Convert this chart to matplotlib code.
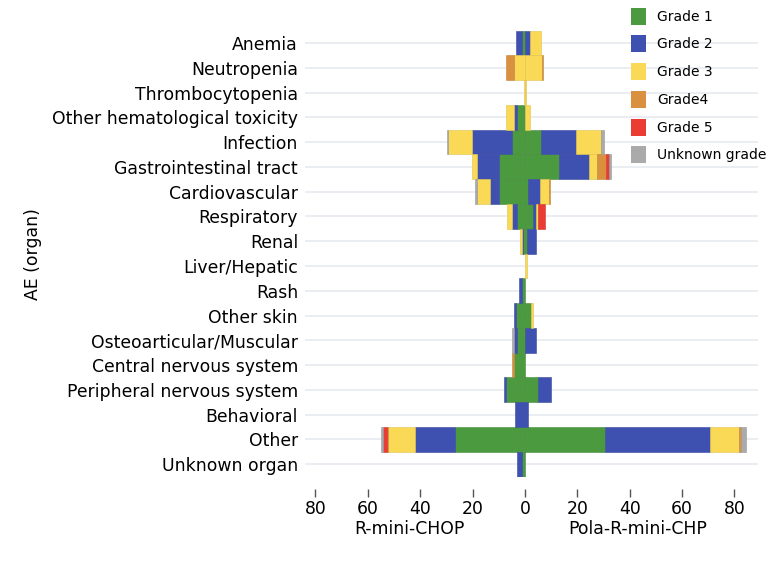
import numpy as np
import matplotlib
matplotlib.use('Agg')
import matplotlib.pyplot as plt
from matplotlib.patches import Patch
from matplotlib.colors import to_rgb

organs = ['Anemia', 'Neutropenia', 'Thrombocytopenia', 'Other hematological toxicity',
          'Infection', 'Gastrointestinal tract', 'Cardiovascular', 'Respiratory',
          'Renal', 'Liver/Hepatic', 'Rash', 'Other skin', 'Osteoarticular/Muscular',
          'Central nervous system', 'Peripheral nervous system', 'Behavioral',
          'Other', 'Unknown organ']

grades = ['Grade 1', 'Grade 2', 'Grade 3', 'Grade4', 'Grade 5', 'Unknown grade']
colors = ['#4c9a3f', '#3f51b0', '#f9d955', '#d9913f', '#ea3c33', '#aaaaaa']

# R-mini-CHOP (drawn to the left)
chop_g1 = [1.0, 0, 0, 3.0, 5.0, 10.0, 10.0, 2.9, 0.7, 0, 1.0, 3.3, 2.9, 4.2, 7.1, 0, 26.7, 1.0]
chop_g2 = [2.3, 0, 0, 1.3, 15.3, 8.3, 3.2, 2.2, 0.6, 0, 1.1, 0.9, 1.3, 0, 0.9, 3.9, 15.3, 2.2]
chop_g3 = [0, 4.3, 0.4, 2.9, 8.9, 1.9, 5.3, 1.9, 0.6, 0, 0, 0, 0, 0, 0, 0, 10.2, 0]
chop_g4 = [0, 2.8, 0, 0, 0, 0, 0, 0, 0, 0, 0, 0, 0, 0.8, 0, 0, 0.6, 0]
chop_g5 = [0, 0, 0, 0, 0, 0, 0, 0, 0, 0, 0, 0, 0, 0, 0, 0, 1.3, 0]
chop_unk = [0, 0, 0, 0, 0.6, 0, 0.6, 0, 0, 0, 0, 0, 0.6, 0, 0, 0, 0.8, 0]

# Pola-R-mini-CHP (drawn to the right)
pola_g1 = [0, 0, 0, 0, 6.0, 13.0, 1.1, 3.2, 0.9, 0, 0, 2.2, 0, 0, 5.0, 0, 30.5, 0]
pola_g2 = [2.0, 0, 0, 0, 13.4, 11.5, 4.8, 1.1, 3.2, 0, 0, 0, 4.1, 0, 4.8, 1.1, 40.3, 0]
pola_g3 = [4.0, 6.4, 0.5, 1.9, 9.5, 3.2, 3.2, 0.6, 0, 0.9, 0, 1.0, 0, 0, 0, 0, 10.8, 0]
pola_g4 = [0, 0.6, 0, 0, 0, 3.2, 0.6, 0, 0, 0, 0, 0, 0, 0, 0, 0, 1.0, 0]
pola_g5 = [0, 0, 0, 0, 0, 1.3, 0, 2.9, 0, 0, 0, 0, 0, 0, 0, 0, 0, 0]
pola_unk = [0, 0, 0, 0, 1.1, 0.5, 0, 0, 0, 0, 0, 0, 0, 0, 0, 0, 1.9, 0]

chop = [chop_g1, chop_g2, chop_g3, chop_g4, chop_g5, chop_unk]
pola = [pola_g1, pola_g2, pola_g3, pola_g4, pola_g5, pola_unk]

xticks = [-80, -60, -40, -20, 0, 20, 40, 60, 80]


def darker(c, f=0.9):
    r, g, b = to_rgb(c)
    return (r * f, g * f, b * f)


fig = plt.figure(figsize=(7.78, 5.66), dpi=100)
ax = fig.add_axes([305 / 778, 1 - 476.6 / 566, (758 - 305) / 778, (476.6 - 30.6) / 566])

y = np.arange(len(organs))
left_base = np.zeros(len(organs))
right_base = np.zeros(len(organs))
for i in range(len(grades)):
    lv = np.array(chop[i])
    rv = np.array(pola[i])
    m = lv > 0
    ax.barh(y[m], -lv[m], left=-left_base[m], height=1.0, color=colors[i],
            edgecolor=darker(colors[i]), linewidth=0.4, zorder=2)
    m = rv > 0
    ax.barh(y[m], rv[m], left=right_base[m], height=1.0, color=colors[i],
            edgecolor=darker(colors[i]), linewidth=0.4, zorder=2)
    left_base += lv
    right_base += rv

ax.set_ylim(len(organs) - 0.5, -0.5)
ax.set_xlim(-84, 89)
ax.set_yticks(y)
ax.set_yticklabels(organs, fontsize=12.4)
ax.tick_params(axis='y', length=0, pad=5)
ax.grid(axis='y', color='#e8edf2', linewidth=1.3, zorder=0)
ax.set_axisbelow(True)

ax.set_xticks(xticks)
ax.set_xticklabels([str(abs(t)) for t in xticks])
ax.tick_params(axis='x', length=5.5, width=1, color='#555555', pad=2.5, labelsize=12.4)
ax.spines['bottom'].set_position(('outward', 9))
for s in ax.spines.values():
    s.set_visible(False)

ax.text(-44, -0.118, 'R-mini-CHOP', transform=ax.get_xaxis_transform(),
        ha='center', va='center', fontsize=12.4)
ax.text(43, -0.118, 'Pola-R-mini-CHP', transform=ax.get_xaxis_transform(),
        ha='center', va='center', fontsize=12.4)

fig.text(32.5 / 778, 1 - 254 / 566, 'AE (organ)', rotation=90,
         ha='center', va='center', fontsize=12.4)

handles = [Patch(facecolor=c, edgecolor='none') for c in colors]
fig.legend(handles, grades, loc='upper left', bbox_to_anchor=(625 / 778, 1 - 2 / 566),
           frameon=False, fontsize=10, handlelength=1.1, handleheight=1.5,
           labelspacing=0.78, handletextpad=0.8, borderaxespad=0)

fig.savefig('out.png', dpi=100)
